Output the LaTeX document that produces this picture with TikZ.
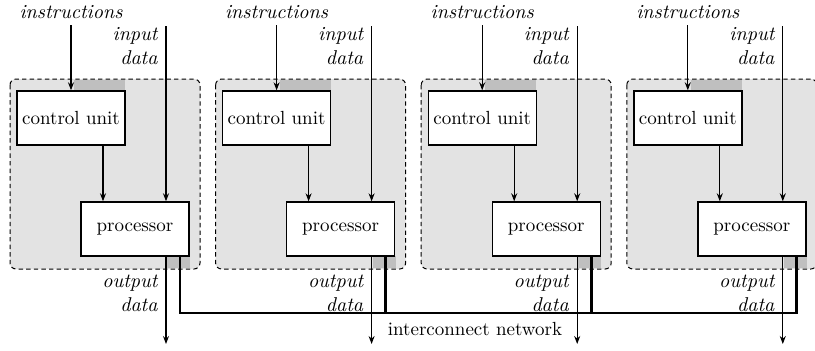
\documentclass[tikz,border=0pt]{standalone}
\usepackage{amsmath}
\usetikzlibrary{arrows.meta}

\tikzset{
  unitbox/.style={draw, dash pattern=on 2.2pt off 1.6pt, rounded corners=3pt, fill=gray!22, line width=0.5pt},
  shade/.style={fill=gray!50},
  block/.style={draw, fill=white, line width=0.7pt, minimum width=54pt, minimum height=27pt, inner sep=0pt},
  sig/.style={line width=0.6pt, -{Stealth[length=4pt,width=3pt]}},
  bus/.style={line width=1.4pt, line join=miter},
  lbl/.style={font=\itshape, align=right, inner sep=0pt},
}

\begin{document}
\begin{tikzpicture}[x=0.5pt, y=-0.5pt, font=\fontsize{9.5}{11}\selectfont]
\useasboundingbox (0,0) rectangle (815,350);
\foreach \i in {0,...,3} {
  \pgfmathsetmacro{\dx}{205.6*\i}
  % Rahmen der Einheit
  \draw[unitbox] (10+\dx,79) rectangle (200+\dx,269);
  \fill[shade] (74+\dx,80) rectangle (125+\dx,91); % dunkler Fleck oben
  \fill[shade] (167+\dx,256) rectangle (190+\dx,268); % dunkler Fleck unten
  % Bloecke
  \node[block] (cu\i) at (71+\dx,118) {control unit};
  \node[block] (pr\i) at (135+\dx,229) {processor};
  % Texte
  \node[lbl, inner ysep=3pt, anchor=south] (tins\i) at (71+\dx,25) {instructions};
  \node[lbl, anchor=east] (tin\i) at (158+\dx,46) {input\\data};
  \node[lbl, anchor=east] (tout\i) at (158+\dx,293) {output\\data};
  % Endpunkte
  \coordinate (in\i) at (166+\dx,26);
  \coordinate (ctl\i) at (103+\dx,0);
  \coordinate (out\i) at (166+\dx,344);
  \coordinate (bus\i) at (180+\dx,313);
  % Pfeile
  \draw[sig] (tins\i) -- (cu\i);
  \draw[sig] (ctl\i |- cu\i.south) -- (ctl\i |- pr\i.north);
  \draw[sig] (in\i) -- (in\i |- pr\i.north);
  \draw[sig] (in\i |- pr\i.south) -- (out\i);
  \draw[bus] (bus\i |- pr\i.south) -- (bus\i);
}
% Verbindungsnetz
\draw[bus] (bus0 |- pr0.south) -- (bus0) -- (bus3) -- (bus3 |- pr3.south);
\node (net) at (475,329) {interconnect network};
\end{tikzpicture}
\end{document}
